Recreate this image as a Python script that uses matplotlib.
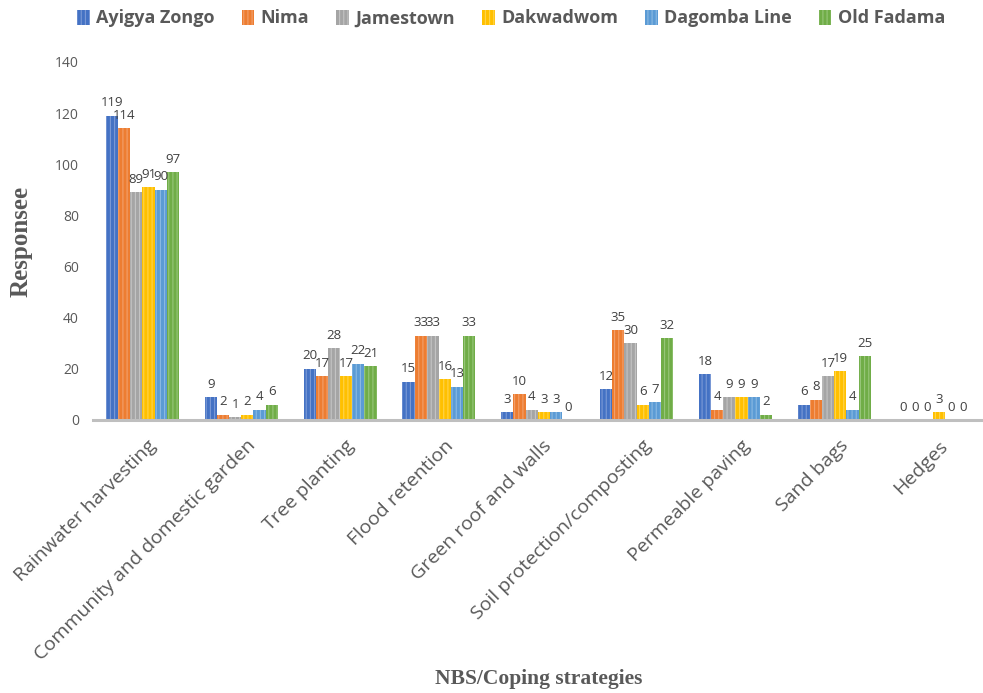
import matplotlib
matplotlib.use("Agg")
import matplotlib.pyplot as plt
import numpy as np

plt.rcParams["hatch.linewidth"] = 0.8

CATEGORIES = [
    "Rainwater harvesting",
    "Community and domestic garden",
    "Tree planting",
    "Flood retention",
    "Green roof and walls",
    "Soil protection/composting",
    "Permeable paving",
    "Sand bags",
    "Hedges",
]
SERIES = ["Ayigya Zongo", "Nima", "Jamestown", "Dakwadwom", "Dagomba Line", "Old Fadama"]

AYIGYA_ZONGO = [119, 9, 20, 15, 3, 12, 18, 6, 0]
NIMA = [114, 2, 17, 33, 10, 35, 4, 8, 0]
JAMESTOWN = [89, 1, 28, 33, 4, 30, 9, 17, 0]
DAKWADWOM = [91, 2, 17, 16, 3, 6, 9, 19, 3]
DAGOMBA_LINE = [90, 4, 22, 13, 3, 7, 9, 4, 0]
OLD_FADAMA = [97, 6, 21, 33, 0, 32, 2, 25, 0]

Y_TICKS = [0, 20, 40, 60, 80, 100, 120, 140]

COLORS = ["#4472C4", "#ED7D31", "#A5A5A5", "#FFC000", "#5B9BD5", "#70AD47"]
STRIPES = ["#7b9ad6", "#f3a06b", "#c4c4c4", "#ffd44d", "#8bb9e3", "#98c67a"]
TEXT = "#595959"
LABEL = "#404040"

values = [AYIGYA_ZONGO, NIMA, JAMESTOWN, DAKWADWOM, DAGOMBA_LINE, OLD_FADAMA]

fig = plt.figure(figsize=(9.83, 6.93), dpi=100)
ax = fig.add_axes([0.0946, 0.394, 0.905, 0.5166])

x = np.arange(len(CATEGORIES))
width = 0.123
for i, (name, vals) in enumerate(zip(SERIES, values)):
    pos = x + (i - 2.5) * width
    ax.bar(pos, vals, width=width, color=COLORS[i], edgecolor=STRIPES[i],
           hatch="||||", linewidth=0, label=name, zorder=2)
    for px, v in zip(pos, vals):
        ax.text(px, v + 2.5, str(v), ha="center", va="bottom",
                fontsize=9.5, color=LABEL, family="Open Sans")

ax.set_xlim(-0.5, len(CATEGORIES) - 0.5)
ax.set_ylim(0, 140)
ax.set_yticks(Y_TICKS)
ax.set_yticklabels([str(t) for t in Y_TICKS], fontsize=10, color=TEXT, family="Open Sans")
ax.set_xticks(x + 0.05)
ax.set_xticklabels(CATEGORIES, rotation=45, ha="right", rotation_mode="anchor",
                   fontsize=14, color=TEXT, family="Open Sans")
ax.tick_params(axis="both", length=0)
ax.tick_params(axis="x", pad=12)
ax.tick_params(axis="y", pad=10)

for side in ("top", "right", "left"):
    ax.spines[side].set_visible(False)
ax.spines["bottom"].set_color("#BFBFBF")
ax.spines["bottom"].set_linewidth(2.2)
ax.spines["bottom"].set_zorder(3)

ax.set_ylabel("Responsee", fontsize=18, fontweight="bold", color=TEXT,
              family="Liberation Serif", labelpad=16)
fig.text(0.548, 0.02, "NBS/Coping strategies", ha="center", va="center",
         fontsize=15.5, fontweight="bold", color=TEXT, family="Liberation Serif")

leg = fig.legend(loc="upper center", bbox_to_anchor=(0.52, 1.01), ncol=6, frameon=False,
                 prop={"family": "Open Sans", "weight": "bold", "size": 13},
                 handlelength=0.7, handleheight=0.9, handletextpad=0.35, columnspacing=1.5)
for t in leg.get_texts():
    t.set_color(TEXT)

fig.savefig("out.png", dpi=100, facecolor="white")
